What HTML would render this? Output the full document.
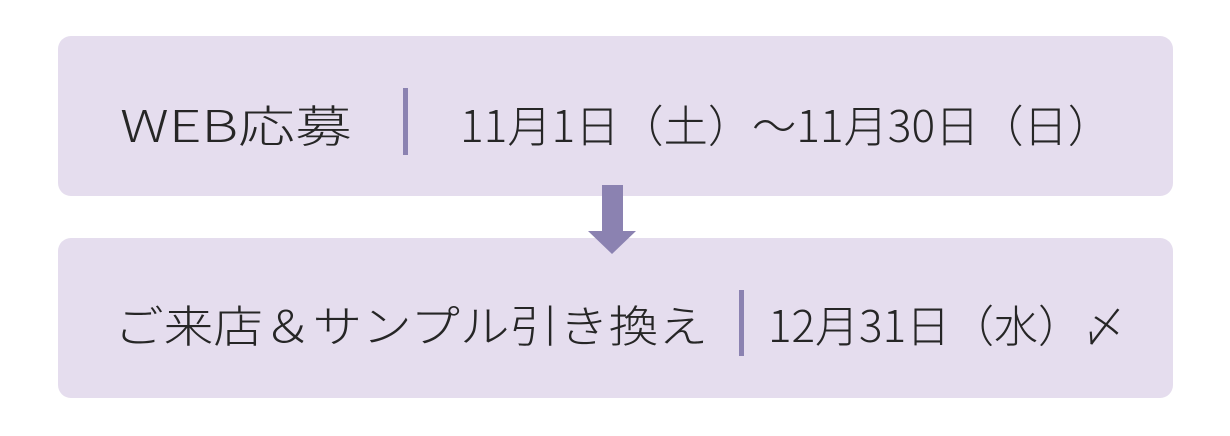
<!DOCTYPE html>
<html><head><meta charset="utf-8"><style>
html,body{margin:0;padding:0;background:#fff;}
svg{display:block}
text{font-family:"Noto Sans CJK JP","Liberation Sans",sans-serif;font-weight:300;font-size:44px;fill:#262626;}
</style></head><body>
<svg width="1230" height="436" viewBox="0 0 1230 436" xmlns="http://www.w3.org/2000/svg">
<rect x="58" y="36" width="1115" height="160" rx="13" fill="#e5ddee"/>
<rect x="58" y="238" width="1115" height="160" rx="13" fill="#e5ddee"/>
<rect x="602" y="185" width="21" height="47" fill="#8b82b1"/>
<polygon points="588,231 636,231 612,254" fill="#8b82b1"/>
<rect x="403" y="88" width="5" height="67" fill="#8b82b1"/>
<rect x="739" y="290" width="5" height="66" fill="#8b82b1"/>
<text x="120" y="142" textLength="232" lengthAdjust="spacingAndGlyphs">WEB応募</text>
<text x="460" y="142" textLength="652" lengthAdjust="spacingAndGlyphs">11月1日（土）～11月30日（日）</text>
<text x="114" y="342" textLength="594" lengthAdjust="spacingAndGlyphs">ご来店＆サンプル引き換え</text>
<text x="768" y="342" textLength="358" lengthAdjust="spacingAndGlyphs">12月31日（水）〆</text>
</svg>
</body></html>
